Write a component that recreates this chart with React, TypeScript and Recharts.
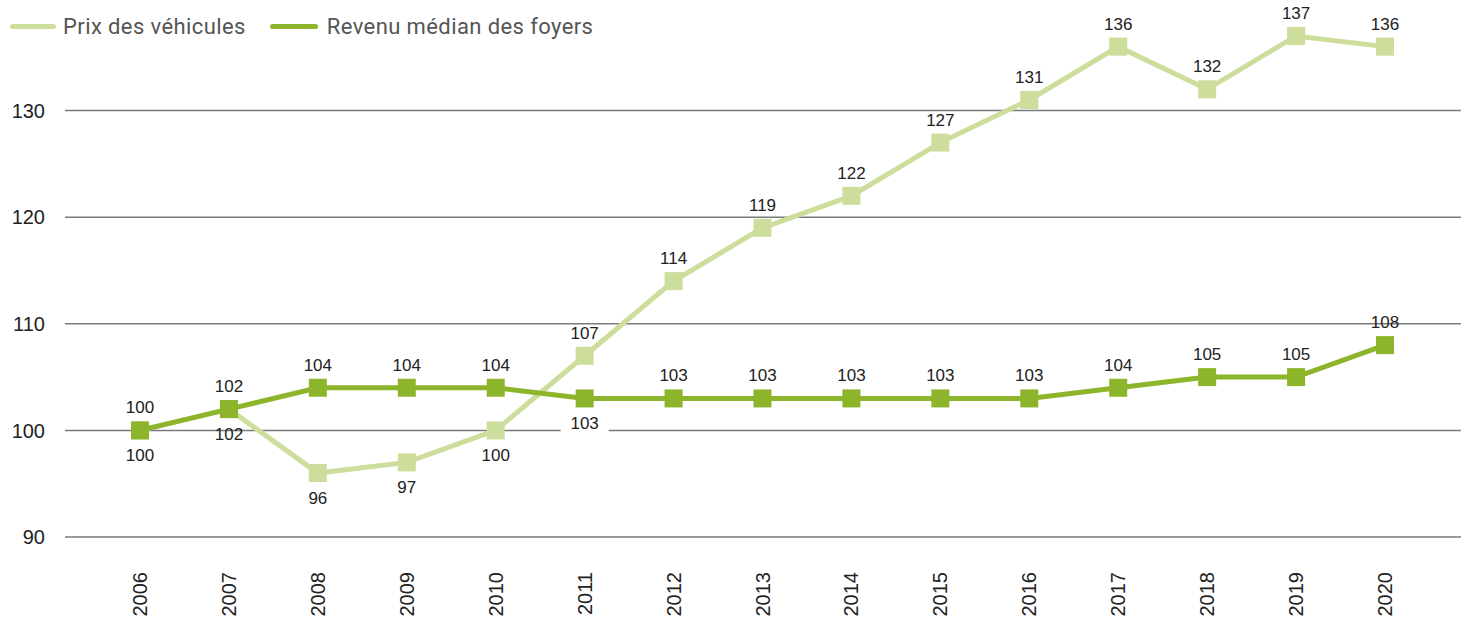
import React from 'react';
import { LineChart, Line, XAxis, YAxis, CartesianGrid } from 'recharts';

const years = ['2006', '2007', '2008', '2009', '2010', '2011', '2012', '2013', '2014', '2015', '2016', '2017', '2018', '2019', '2020'];
const vehiclePrice = [100, 102, 96, 97, 100, 107, 114, 119, 122, 127, 131, 136, 132, 137, 136];
const medianIncome = [100, 102, 104, 104, 104, 103, 103, 103, 103, 103, 103, 104, 105, 105, 108];
// where each value label sits relative to its point
const priceLabelPos = ['below', 'below', 'below', 'below', 'below', 'above', 'above', 'above', 'above', 'above', 'above', 'above', 'above', 'above', 'above'];
const incomeLabelPos = ['above', 'above', 'above', 'above', 'above', 'below', 'above', 'above', 'above', 'above', 'above', 'above', 'above', 'above', 'above'];
const yTicks = [90, 100, 110, 120, 130];

const LIGHT = '#cddd9b';
const DARK = '#8db52b';
const FONT = "'Liberation Sans', Arial, sans-serif";

const data = years.map((year, i) => ({ year, price: vehiclePrice[i], income: medianIncome[i] }));

const squareDot = (color: string) => (props: any) => {
  const { cx, cy, index } = props;
  if (cx == null || cy == null) return <g key={`d-${index}`} />;
  return <rect key={`d-${index}`} x={cx - 9} y={cy - 9} width={18} height={18} fill={color} />;
};

const valueLabel = (positions: string[]) => (props: any) => {
  const { x, y, value, index } = props;
  const below = positions[index] === 'below';
  const ty = below ? y + 25 : y - 23;
  return (
    <g key={`l-${index}`}>
      {below && index === 5 && <rect x={x - 24} y={ty - 10} width={48} height={20} fill="#fff" />}
      <text x={x} y={ty} dy="0.35em" textAnchor="middle" fontSize={17} fill="#222" fontFamily={FONT}>
        {value}
      </text>
    </g>
  );
};

const YearTick = (props: any) => {
  const { x, y, payload } = props;
  return (
    <text
      x={x}
      y={y}
      transform={`rotate(-90, ${x}, ${y})`}
      textAnchor="end"
      dy="0.35em"
      dx={-27}
      fontSize={20}
      fill="#222"
      fontFamily={FONT}
    >
      {payload.value}
    </text>
  );
};

const Legend = () => (
  <div style={{ position: 'absolute', left: 10, top: 14, display: 'flex', alignItems: 'center', fontFamily: 'Roboto, sans-serif', fontSize: 22, letterSpacing: 0.4, color: '#555' }}>
    <span style={{ display: 'inline-block', width: 46, height: 5, background: LIGHT, borderRadius: 3, marginRight: 7 }} />
    <span style={{ marginRight: 24 }}>Prix des véhicules</span>
    <span style={{ display: 'inline-block', width: 48, height: 5, background: DARK, borderRadius: 3, marginRight: 9 }} />
    <span>Revenu médian des foyers</span>
  </div>
);

export default function App() {
  return (
    <div style={{ position: 'absolute', left: 0, top: 0, width: 1461, height: 619, background: '#fff' }}>
      <LineChart width={1461} height={619} data={data} margin={{ top: 4, right: 0, bottom: 0, left: 0 }}>
        <CartesianGrid vertical={false} horizontalValues={yTicks} stroke="#7a7a7a" strokeWidth={1.5} />
        <XAxis
          dataKey="year"
          height={82}
          axisLine={false}
          tickLine={false}
          padding={{ left: 75, right: 76 }}
          tick={<YearTick />}
          interval={0}
        />
        <YAxis
          domain={[90, 140]}
          ticks={yTicks}
          width={65}
          axisLine={false}
          tickLine={false}
          tickMargin={14}
          tick={{ fontSize: 20, fill: '#222', fontFamily: FONT }}
        />
        <Line
          dataKey="price"
          stroke={LIGHT}
          strokeWidth={5}
          dot={squareDot(LIGHT)}
          activeDot={false}
          label={valueLabel(priceLabelPos)}
          isAnimationActive={false}
        />
        <Line
          dataKey="income"
          stroke={DARK}
          strokeWidth={5}
          dot={squareDot(DARK)}
          activeDot={false}
          label={valueLabel(incomeLabelPos)}
          isAnimationActive={false}
        />
      </LineChart>
      <Legend />
    </div>
  );
}
